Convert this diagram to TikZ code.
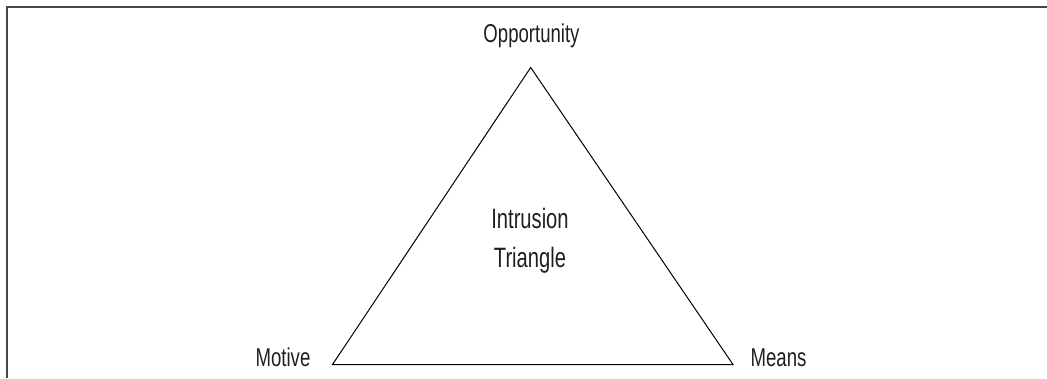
\documentclass[tikz,border=0pt]{standalone}
\usepackage{fontspec}
\usepackage{tikz}
\usetikzlibrary{positioning}
\newfontfamily\narrowsans[FakeStretch=0.72]{Liberation Sans}

\begin{document}
\begin{tikzpicture}[x=1pt,y=-1pt,
    frame/.style={draw=black!72,line width=2pt},
    side/.style={draw=black,line width=1pt,line join=miter},
    corner/.style={font=\narrowsans\fontsize{25.8}{30}\selectfont,text=black!88,inner sep=0pt,anchor=base},
    title/.style={font=\narrowsans\fontsize{28}{39}\selectfont,text=black!88,inner sep=0pt,anchor=base,align=center}]
      \useasboundingbox (0,0) rectangle (1047,378);
      \draw[frame] (1047,7) -- (7,7) -- (7,378);
      \coordinate (top) at (530.7,67.5);
      \coordinate (left) at (332.5,364.5);
      \coordinate (right) at (733,364.5);
      \draw[side] (top) -- (right) -- (left) -- cycle;
      \node[corner] (opportunity) at (531.5,42.5) {Opportunity};
      \node[corner] (motive) at (283,366.5) {Motive};
      \node[corner] (means) at (778.5,366) {Means};
      \node[title] (intrusion) at (530,267.5) {Intrusion\\Triangle};
    \end{tikzpicture}
\end{document}
